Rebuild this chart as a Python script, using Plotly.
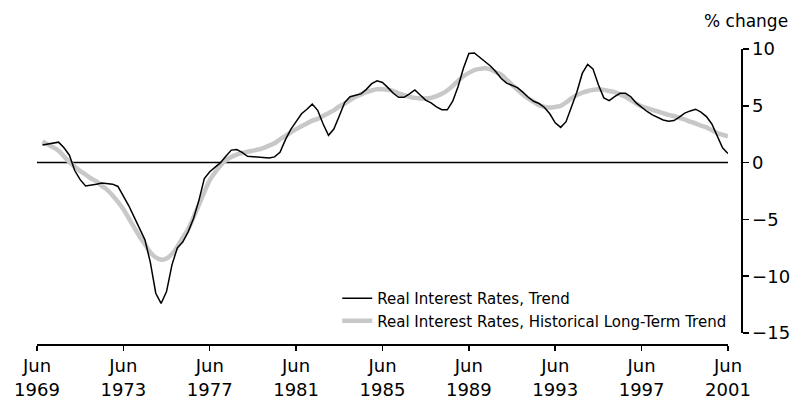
import plotly.graph_objects as go
import pandas as pd

# Quarterly observations, Sep 1969 .. Jun 2001
quarters = pd.date_range("1969-09-01", periods=128, freq="3MS")

trend = [
    1.55, 1.65, 1.75, 1.8, 1.3, 0.65, -0.7, -1.5, -2.05, -2.0,
    -1.9, -1.8, -1.85, -1.9, -2.1, -2.9, -3.8, -4.8, -5.8, -6.8,
    -8.8, -11.5, -12.4, -11.35, -9.0, -7.5, -7.0, -6.1, -4.9, -3.3,
    -1.4, -0.8, -0.4, 0.0, 0.55, 1.1, 1.15, 0.9, 0.55, 0.5,
    0.5, 0.45, 0.4, 0.5, 0.9, 2.0, 2.9, 3.6, 4.3, 4.7,
    5.15, 4.6, 3.4, 2.4, 2.95, 4.1, 5.3, 5.8, 5.9, 6.05,
    6.45, 6.95, 7.2, 7.05, 6.6, 6.1, 5.75, 5.75, 6.05, 6.4,
    5.95, 5.5, 5.25, 4.9, 4.65, 4.65, 5.4, 6.7, 8.3, 9.6,
    9.65, 9.25, 8.9, 8.5, 8.0, 7.4, 7.0, 6.8, 6.6, 6.2,
    5.75, 5.4, 5.2, 4.85, 4.3, 3.5, 3.1, 3.6, 4.8, 6.2,
    7.85, 8.65, 8.25, 6.85, 5.7, 5.45, 5.8, 6.1, 6.1, 5.8,
    5.25, 4.85, 4.5, 4.2, 3.95, 3.75, 3.65, 3.7, 4.0, 4.35,
    4.55, 4.7, 4.45, 4.05, 3.4, 2.3, 1.3, 0.8,
]

long_term = [
    1.85, 1.6, 1.35, 1.05, 0.55, 0.05, -0.35, -0.75, -1.05, -1.4,
    -1.65, -2.05, -2.4, -2.9, -3.45, -4.1, -4.9, -5.7, -6.5, -7.2,
    -7.9, -8.35, -8.55, -8.45, -8.05, -7.4, -6.6, -5.85, -4.8, -3.7,
    -2.6, -1.55, -0.85, -0.25, 0.2, 0.5, 0.7, 0.85, 0.95, 1.05,
    1.15, 1.3, 1.5, 1.7, 2.05, 2.35, 2.65, 2.95, 3.2, 3.45,
    3.7, 3.85, 4.1, 4.35, 4.6, 4.95, 5.2, 5.5, 5.8, 6.0,
    6.2, 6.35, 6.45, 6.45, 6.4, 6.3, 6.1, 5.95, 5.8, 5.7,
    5.65, 5.65, 5.7, 5.85, 6.05, 6.35, 6.75, 7.2, 7.6, 7.9,
    8.15, 8.25, 8.3, 8.2, 7.95, 7.75, 7.3, 6.85, 6.4, 6.0,
    5.65, 5.35, 5.05, 4.9, 4.85, 4.9, 5.0, 5.3, 5.65, 5.95,
    6.15, 6.3, 6.4, 6.45, 6.4, 6.3, 6.2, 6.0, 5.8, 5.5,
    5.2, 4.95, 4.8, 4.65, 4.5, 4.35, 4.2, 4.1, 3.95, 3.8,
    3.6, 3.45, 3.25, 3.1, 2.85, 2.6, 2.45, 2.3,
]

x_tick_years = [1969, 1973, 1977, 1981, 1985, 1989, 1993, 1997, 2001]
x_tick_vals = [f"{y}-06-01" for y in x_tick_years]
x_tick_text = [f"Jun<br>{y}" for y in x_tick_years]

y_tick_vals = [-15, -10, -5, 0, 5, 10]
y_tick_text = ["\u221215", "\u221210", "\u22125", "0", "5", "10"]

name_trend = "Real Interest Rates, Trend"
name_long = "Real Interest Rates, Historical Long-Term Trend"

FONT = "DejaVu Sans"

fig = go.Figure()
fig.add_trace(go.Scatter(
    x=quarters, y=long_term, mode="lines", name=name_long,
    line=dict(color="#c8c8c8", width=4.5, shape="spline", smoothing=0.8),
    legendrank=2,
))
fig.add_trace(go.Scatter(
    x=quarters, y=trend, mode="lines", name=name_trend,
    line=dict(color="#000000", width=1.5),
    legendrank=1,
))

fig.add_shape(type="line", xref="x", yref="y",
              x0=x_tick_vals[0], x1=x_tick_vals[-1], y0=0, y1=0,
              line=dict(color="black", width=1.5), layer="below")

fig.update_layout(
    width=791, height=401,
    margin=dict(l=37, r=50, t=49, b=57, autoexpand=False),
    paper_bgcolor="white", plot_bgcolor="white",
    font=dict(family=FONT, color="black", size=18),
    showlegend=True,
    hovermode=False,
    legend=dict(
        x=0.4265, y=0.21, xanchor="left", yanchor="top",
        bgcolor="rgba(0,0,0,0)", borderwidth=0,
        font=dict(family=FONT, size=15, color="black"),
        tracegroupgap=0,
    ),
    xaxis=dict(
        domain=[0, 0.9815], anchor="free", position=0,
        type="date", range=[x_tick_vals[0], x_tick_vals[-1]],
        tickmode="array", tickvals=x_tick_vals, ticktext=x_tick_text,
        showline=True, linecolor="black", linewidth=1.5,
        ticks="outside", ticklen=5, tickcolor="black", tickwidth=1.5,
        showgrid=False, zeroline=False, automargin=False,
        tickfont=dict(family=FONT, size=18, color="black"),
    ),
    yaxis=dict(
        domain=[0.0373, 1], anchor="free", position=1, side="right",
        range=[-15, 10],
        tickmode="array", tickvals=y_tick_vals, ticktext=y_tick_text,
        showline=True, linecolor="black", linewidth=1.5,
        ticks="outside", ticklen=6, tickcolor="black", tickwidth=1.5,
        showgrid=False, zeroline=False, automargin=False,
        tickfont=dict(family=FONT, size=18, color="black"),
    ),
    annotations=[dict(
        text="% change", xref="paper", yref="paper",
        x=1.007, y=1.0, xanchor="center", yanchor="bottom", yshift=16,
        showarrow=False, font=dict(family=FONT, size=17, color="black"),
    )],
)

fig.write_html(
    "out.html",
    config={"displayModeBar": False, "staticPlot": True},
    post_script="document.documentElement.style.margin='0';"
                "document.body.style.margin='0';"
                "document.body.style.overflow='hidden';",
)
